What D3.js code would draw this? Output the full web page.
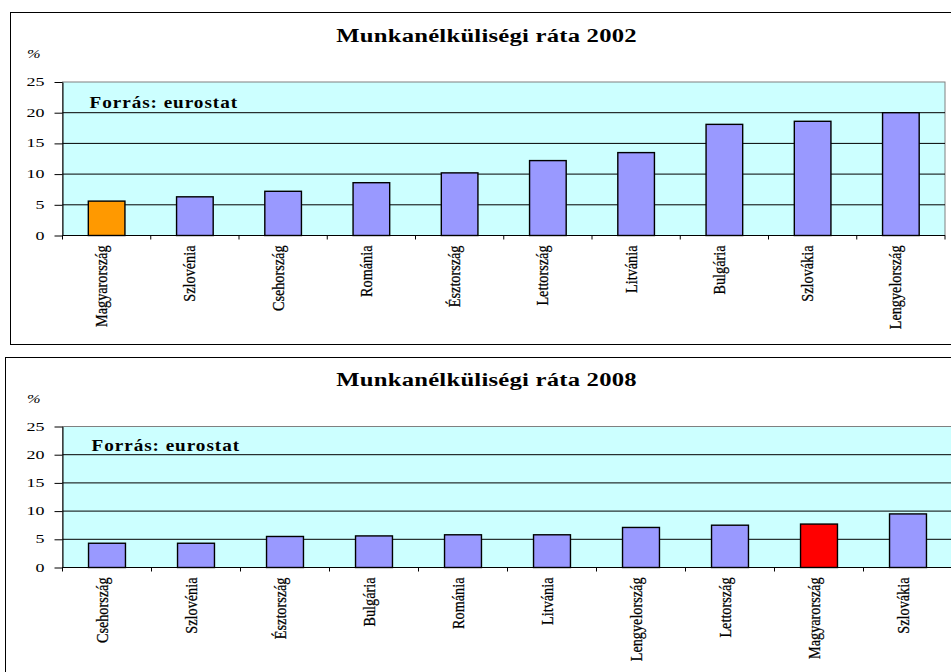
<!DOCTYPE html>
<html>
<head>
<meta charset="utf-8">
<script src="https://cdn.jsdelivr.net/npm/d3@7"></script>
<style>
  body { margin: 0; background: #fff; }
  svg { display: block; }
  text { font-family: "Liberation Serif", "Times New Roman", serif; fill: #000; }
</style>
</head>
<body>
<div id="chart"></div>
<script>
// data (unemployment rate, %)
var countries2002 = ["Magyarország", "Szlovénia", "Csehország", "Románia", "Észtország",
  "Lettország", "Litvánia", "Bulgária", "Szlovákia", "Lengyelország"];
var rates2002 = [5.6, 6.3, 7.2, 8.6, 10.2, 12.2, 13.5, 18.1, 18.6, 20.0];

var countries2008 = ["Csehország", "Szlovénia", "Észtország", "Bulgária", "Románia",
  "Litvánia", "Lengyelország", "Lettország", "Magyarország", "Szlovákia"];
var rates2008 = [4.3, 4.3, 5.5, 5.6, 5.8, 5.8, 7.1, 7.5, 7.7, 9.5];

var yTicks = [0, 5, 10, 15, 20, 25];
var highlight = "Magyarország";

var svgWidth = 951;
var svgHeight = 672;

var svg = d3.select("#chart")
  .append("svg")
  .attr("width", svgWidth)
  .attr("height", svgHeight);

function drawChart(opts) {
  var frame = opts.frame;
  var p = opts.plot;
  var width = p.right - p.left;
  var height = p.bottom - p.top;

  // outer chart frame
  svg.append("rect")
    .attr("x", frame.x)
    .attr("y", frame.y)
    .attr("width", frame.w)
    .attr("height", frame.h)
    .attr("fill", "#fff")
    .attr("stroke", "#000")
    .attr("stroke-width", 1);

  var g = svg.append("g")
    .attr("transform", `translate(${p.left}, ${p.top})`);

  var x = d3.scaleBand()
    .domain(opts.categories)
    .range([0, width])
    .padding(0);

  var y = d3.scaleLinear()
    .domain([0, 25])
    .range([height, 0]);

  // plot background
  g.append("rect")
    .attr("width", width)
    .attr("height", height)
    .attr("fill", "#ccffff")
    .attr("stroke", "#808080")
    .attr("stroke-width", 1);

  // gridlines
  g.selectAll(".grid")
    .data(yTicks.filter(d => d > 0 && d < 25))
    .enter()
    .append("line")
    .attr("x1", 0)
    .attr("x2", width)
    .attr("y1", d => y(d))
    .attr("y2", d => y(d))
    .attr("stroke", "#000")
    .attr("stroke-width", 1);

  // bars
  var barW = x.bandwidth() * 0.415;
  g.selectAll(".bar")
    .data(opts.values)
    .enter()
    .append("rect")
    .attr("x", (d, i) => x(opts.categories[i]) + (x.bandwidth() - barW) / 2)
    .attr("y", d => y(d))
    .attr("width", barW)
    .attr("height", d => height - y(d))
    .attr("fill", (d, i) => opts.categories[i] === highlight ? opts.highlightColor : "#9999ff")
    .attr("stroke", "#000")
    .attr("stroke-width", 1.4);

  // y axis
  var leftAxis = d3.axisLeft(y)
    .tickValues(yTicks)
    .tickSize(8)
    .tickSizeOuter(0)
    .tickFormat("");
  g.append("g")
    .call(leftAxis)
    .call(s => s.selectAll("path, line").attr("stroke", "#000"));

  g.selectAll(".ylab")
    .data(yTicks)
    .enter()
    .append("text")
    .attr("transform", d => `translate(-18, ${y(d) + 4}) scale(1.5, 1)`)
    .attr("text-anchor", "end")
    .style("font-size", "12px")
    .text(d => d);

  // x axis: line + ticks between categories
  g.append("line")
    .attr("x1", 0)
    .attr("x2", width)
    .attr("y1", height)
    .attr("y2", height)
    .attr("stroke", "#000");

  var edges = opts.categories.map(c => x(c)).concat([width]);
  g.selectAll(".xtick")
    .data(edges)
    .enter()
    .append("line")
    .attr("x1", d => d)
    .attr("x2", d => d)
    .attr("y1", height)
    .attr("y2", height + 4)
    .attr("stroke", "#000");

  g.selectAll(".xlab")
    .data(opts.categories)
    .enter()
    .append("text")
    .attr("transform", d => `translate(${x(d) + x.bandwidth() / 2 + 0.5}, ${height + 10}) rotate(-90) scale(0.95, 1.05)`)
    .attr("text-anchor", "end")
    .style("font-size", "15px")
    .style("stroke", "#000")
    .style("stroke-width", 0.25)
    .text(d => d);

  // title
  svg.append("text")
    .attr("transform", `translate(${opts.titleX}, ${opts.titleY}) scale(1.3, 1)`)
    .attr("text-anchor", "middle")
    .attr("textLength", 231)
    .attr("lengthAdjust", "spacing")
    .style("font-size", "19px")
    .style("font-weight", "bold")
    .text(opts.title);

  // unit label
  svg.append("text")
    .attr("transform", `translate(27, ${opts.unitY}) scale(1.3, 1)`)
    .style("font-size", "12.5px")
    .style("font-style", "italic")
    .text("%");

  // source note
  svg.append("text")
    .attr("transform", `translate(${opts.noteX}, ${opts.noteY}) scale(1.2, 1)`)
    .attr("textLength", 123)
    .attr("lengthAdjust", "spacing")
    .style("font-size", "16px")
    .style("font-weight", "bold")
    .text("Forrás: eurostat");
}

drawChart({
  categories: countries2002,
  values: rates2002,
  highlightColor: "#ff9900",
  title: "Munkanélküliségi ráta 2002",
  frame: {x: 10.5, y: 12.5, w: 960, h: 332},
  plot: {left: 62.5, top: 82, right: 945, bottom: 235.5},
  titleX: 486.5, titleY: 42,
  unitY: 58,
  noteX: 89.5, noteY: 108
});

drawChart({
  categories: countries2008,
  values: rates2008,
  highlightColor: "#ff0000",
  title: "Munkanélküliségi ráta 2008",
  frame: {x: 5.5, y: 357.5, w: 960, h: 400},
  plot: {left: 62.5, top: 426.5, right: 952.5, bottom: 567.5},
  titleX: 486.5, titleY: 385.5,
  unitY: 403,
  noteX: 91.5, noteY: 451
});
</script>
</body>
</html>
